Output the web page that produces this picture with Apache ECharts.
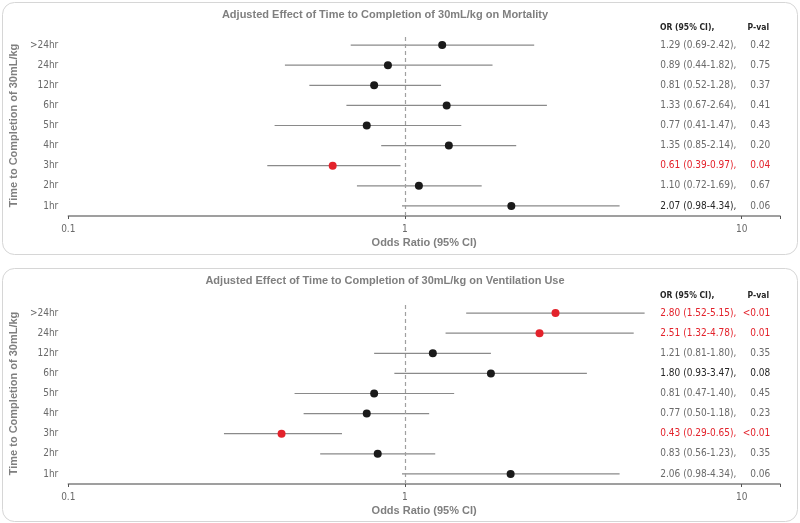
<!DOCTYPE html>
<html><head><meta charset="utf-8">
<script src="https://cdn.jsdelivr.net/npm/echarts@6/dist/echarts.min.js"></script>
<style>html,body{margin:0;padding:0;background:#fff}#c{width:800px;height:523px}</style>
</head><body><div id="c"></div>
<script>
// ---------- DATA ----------
const categories = ['1hr', '2hr', '3hr', '4hr', '5hr', '6hr', '12hr', '24hr', '>24hr'];
const xTickLabels = [0.1, 1, 10];

const mortTitle = 'Adjusted Effect of Time to Completion of 30mL/kg on Mortality';
const mortOR = [2.07, 1.10, 0.61, 1.35, 0.77, 1.33, 0.81, 0.89, 1.29];
const mortLo = [0.98, 0.72, 0.39, 0.85, 0.41, 0.67, 0.52, 0.44, 0.69];
const mortHi = [4.34, 1.69, 0.97, 2.14, 1.47, 2.64, 1.28, 1.82, 2.42];
const mortP  = ['0.06', '0.67', '0.04', '0.20', '0.43', '0.41', '0.37', '0.75', '0.42'];
const mortSig = [false, false, true, false, false, false, false, false, false];

const ventTitle = 'Adjusted Effect of Time to Completion of 30mL/kg on Ventilation Use';
const ventOR = [2.06, 0.83, 0.43, 0.77, 0.81, 1.80, 1.21, 2.51, 2.80];
const ventLo = [0.98, 0.56, 0.29, 0.50, 0.47, 0.93, 0.81, 1.32, 1.52];
const ventHi = [4.34, 1.23, 0.65, 1.18, 1.40, 3.47, 1.80, 4.78, 5.15];
const ventP  = ['0.06', '0.35', '<0.01', '0.23', '0.45', '0.08', '0.35', '0.01', '<0.01'];
const ventSig = [false, false, true, false, false, false, false, true, true];

// ---------- STYLE ----------
const RED = '#e3222b', DOT = '#1a1a1a', GRAY = '#7f7f7f', TXT = '#6a6a6a', DARK = '#262626';
const NARROW = "'Liberation Sans Narrow','DejaVu Sans Condensed',Roboto,sans-serif";
const BOLD = "'Liberation Sans',Arial,sans-serif";
// rows whose table text is drawn darker in the original
const darkOR = [[0], [5]];
const darkP = [[], [5]];

const panels = [
  {title: mortTitle, or: mortOR, lo: mortLo, hi: mortHi, p: mortP, sig: mortSig, top: 35, boxY: 2, boxH: 252},
  {title: ventTitle, or: ventOR, lo: ventLo, hi: ventHi, p: ventP, sig: ventSig, top: 303, boxY: 268, boxH: 253}
];

const grids = [], xAxes = [], yAxes = [], series = [], graphics = [];
panels.forEach((P, i) => {
  grids.push({left: 67, right: 20, top: P.top, height: 181});
  xAxes.push({
    type: 'log', logBase: 10, gridIndex: i, min: 0.1, max: 13,
    axisLine: {show: true, lineStyle: {color: '#808080', width: 1.5}},
    axisTick: {show: true, length: 3, lineStyle: {color: '#555', width: 1}},
    splitLine: {show: false}, minorTick: {show: false},
    axisLabel: {
      color: TXT, fontSize: 10, fontFamily: NARROW, margin: 8,
      formatter: v => {
        const t = xTickLabels.find(t => Math.abs(t - v) < 1e-9);
        return t === undefined ? '' : String(t);
      }
    },
    name: 'Odds Ratio (95% CI)', nameLocation: 'middle', nameGap: 21,
    nameTextStyle: {color: GRAY, fontWeight: 'bold', fontSize: 11, fontFamily: BOLD}
  });
  yAxes.push({
    type: 'category', gridIndex: i, data: categories,
    axisLine: {show: false}, axisTick: {show: false}, splitLine: {show: false},
    axisLabel: {color: TXT, fontSize: 10, fontFamily: NARROW, margin: 10},
    name: 'Time to Completion of 30mL/kg', nameLocation: 'middle', nameGap: 40, nameRotate: 90,
    nameTextStyle: {color: GRAY, fontWeight: 'bold', fontSize: 11, fontFamily: BOLD}
  });
  // CI whiskers
  series.push({
    type: 'custom', xAxisIndex: i, yAxisIndex: i, z: 2,
    data: categories.map((c, k) => [k, P.lo[k], P.hi[k]]),
    encode: {y: 0, x: [1, 2]},
    renderItem: (params, api) => {
      const a = api.coord([api.value(1), api.value(0)]);
      const b = api.coord([api.value(2), api.value(0)]);
      return {type: 'line', shape: {x1: a[0], y1: a[1], x2: b[0], y2: b[1]},
              style: {stroke: '#8a8a8a', lineWidth: 1.2}};
    },
    silent: true
  });
  // point estimates + reference line
  series.push({
    type: 'scatter', xAxisIndex: i, yAxisIndex: i, z: 3, symbolSize: 8,
    data: categories.map((c, k) => ({value: [P.or[k], k], itemStyle: {color: P.sig[k] ? RED : DOT, opacity: 1}})),
    itemStyle: {opacity: 1},
    markLine: {
      silent: true, symbol: 'none', label: {show: false},
      lineStyle: {color: '#a0a0a0', type: [4, 3], width: 1.2},
      data: [{xAxis: 1}]
    }
  });
  // table text
  series.push({
    type: 'custom', xAxisIndex: i, yAxisIndex: i, z: 4,
    data: categories.map((c, k) => [1, k]),
    encode: {x: 0, y: 1},
    renderItem: (params, api) => {
      const k = params.dataIndex;
      const y = api.coord([1, k])[1];
      const cs = params.coordSys;
      const orTxt = P.or[k].toFixed(2) + ' (' + P.lo[k].toFixed(2) + '-' + P.hi[k].toFixed(2) + '),';
      const colOR = P.sig[k] ? RED : (darkOR[i].includes(k) ? DARK : TXT);
      const colP = P.sig[k] ? RED : (darkP[i].includes(k) ? DARK : TXT);
      return {type: 'group', children: [
        {type: 'text', x: cs.x + 592, y: y,
         style: {text: orTxt, fill: colOR, font: '10px ' + NARROW, align: 'left', verticalAlign: 'middle', textAlign: 'left', textVerticalAlign: 'middle'}},
        {type: 'text', x: cs.x + 702, y: y,
         style: {text: P.p[k], fill: colP, font: '10px ' + NARROW, align: 'right', verticalAlign: 'middle', textAlign: 'right', textVerticalAlign: 'middle'}}
      ]};
    },
    silent: true
  });
  graphics.push({type: 'rect', shape: {x: 2.5, y: P.boxY + 0.5, width: 795, height: P.boxH, r: 12},
                 style: {fill: 'none', stroke: '#d6d6d6', lineWidth: 1}, z: 0});
  graphics.push({type: 'text', x: 385, y: P.boxY + 13,
                 style: {text: P.title, fill: GRAY, font: 'bold 11px ' + BOLD, align: 'center', verticalAlign: 'middle', textAlign: 'center', textVerticalAlign: 'middle'}});
  graphics.push({type: 'text', x: 660, y: P.top - 7,
                 style: {text: 'OR (95% CI),', fill: DARK, font: 'bold 8.5px ' + NARROW, align: 'left', verticalAlign: 'middle', textAlign: 'left', textVerticalAlign: 'middle'}});
  graphics.push({type: 'text', x: 769, y: P.top - 7,
                 style: {text: 'P-val', fill: DARK, font: 'bold 8.5px ' + NARROW, align: 'right', verticalAlign: 'middle', textAlign: 'right', textVerticalAlign: 'middle'}});
});

const chart = echarts.init(document.getElementById('c'));
chart.setOption({
  animation: false,
  backgroundColor: '#fff',
  grid: grids, xAxis: xAxes, yAxis: yAxes, series: series, graphic: graphics
});
</script>
</body></html>
